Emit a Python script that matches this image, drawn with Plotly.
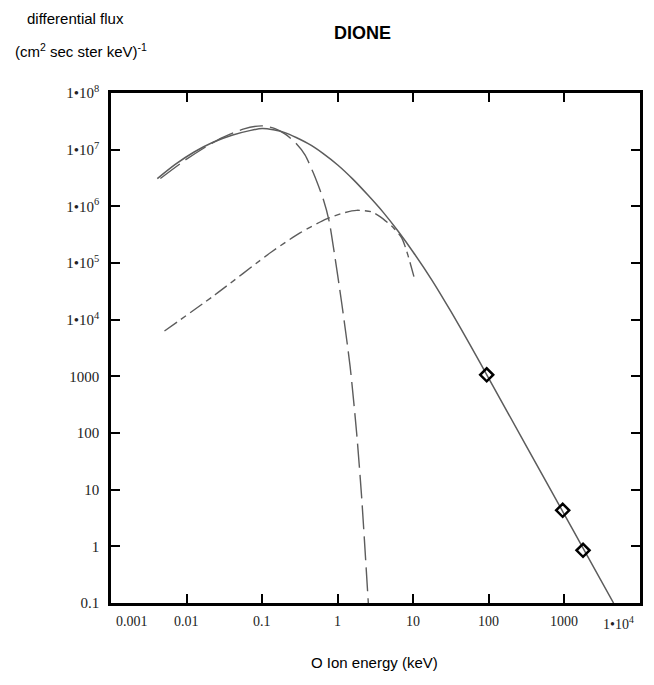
import plotly.graph_objects as go
import math

# Total O-ion differential flux (keV, (cm^2 s sr keV)^-1)
total_energy = [0.0041, 0.00708, 0.0126, 0.0224, 0.0398, 0.0708, 0.1, 0.141, 0.2, 0.282,
                0.447, 0.631, 1.0, 1.585, 2.51, 3.98, 6.31, 10, 17.8, 31.6, 56.2, 100,
                316, 1000, 1778, 4467]
total_flux = [3.09e6, 5.5e6, 9.1e6, 1.35e7, 1.8e7, 2.19e7, 2.36e7, 2.24e7, 2.0e7, 1.64e7,
              1.19e7, 8.7e6, 5.37e6, 3.02e6, 1.58e6, 7.9e5, 3.63e5, 1.55e5, 4.9e4, 1.38e4,
              3.63e3, 912, 57.5, 3.63, 0.91, 0.1]

# Cold (thermal) component
cold_energy = [0.0045, 0.01, 0.025, 0.056, 0.1, 0.148, 0.2, 0.282, 0.369, 0.475,
               0.646, 0.767, 0.875, 1.13, 1.46, 1.78, 2.07, 2.54]
cold_flux = [3.1e6, 6.8e6, 1.45e7, 2.3e7, 2.63e7, 2.35e7, 1.9e7, 1.29e7, 8.1e6, 3.9e6,
             1.32e6, 5.6e5, 1.95e5, 1.95e4, 1.48e3, 100, 7.6, 0.1]

# Hot component
hot_energy = [0.0051, 0.0238, 0.134, 0.317, 0.714, 1.26, 1.78, 2.8, 3.63, 5.45,
              7.0, 8.2, 10.5]
hot_flux = [6.3e3, 2.75e4, 1.58e5, 3.4e5, 6.0e5, 7.8e5, 8.5e5, 8.0e5, 6.6e5, 4.2e5,
            2.8e5, 1.6e5, 5.0e4]

# Measured points
meas_energy = [93.6, 948, 1762]
meas_flux = [1064, 4.33, 0.85]

x_tick_vals = [0.001, 0.01, 0.1, 1, 10, 100, 1000, 10000]
x_tick_text = ["0.001", "0.01", "0.1", "1", "10", "100", "1000", "1•10<sup>4</sup>"]
y_tick_vals = [0.1, 1, 10, 100, 1000, 1e4, 1e5, 1e6, 1e7, 1e8]
y_tick_text = ["0.1", "1", "10", "100", "1000", "1•10<sup>4</sup>", "1•10<sup>5</sup>",
               "1•10<sup>6</sup>", "1•10<sup>7</sup>", "1•10<sup>8</sup>"]

line_gray = "#5c5c5c"
serif = "Liberation Serif"
sans = "Liberation Sans"

fig = go.Figure()
fig.add_trace(go.Scatter(x=cold_energy, y=cold_flux, mode="lines",
                         line=dict(color=line_gray, width=1.4, dash="24px,7px", shape="spline",
                                   smoothing=0.7)))
fig.add_trace(go.Scatter(x=hot_energy, y=hot_flux, mode="lines",
                         line=dict(color=line_gray, width=1.4, dash="15px,5px,6px,5px",
                                   shape="spline", smoothing=0.7)))
fig.add_trace(go.Scatter(x=total_energy, y=total_flux, mode="lines",
                         line=dict(color=line_gray, width=1.5, shape="spline", smoothing=0.7)))
fig.add_trace(go.Scatter(x=meas_energy, y=meas_flux, mode="markers",
                         marker=dict(symbol="diamond-open", size=10, color="black",
                                     line=dict(color="black", width=2.5))))

axis_common = dict(
    type="log", showgrid=False, zeroline=False,
    showline=True, linecolor="black", linewidth=2.5, mirror="ticks",
    ticks="inside", ticklen=9, tickwidth=2, tickcolor="black",
)

fig.update_xaxes(range=[-3, 4], tickvals=x_tick_vals, showticklabels=False, **axis_common)
fig.update_yaxes(range=[-1, 8], tickvals=y_tick_vals, ticktext=y_tick_text,
                 tickfont=dict(family=serif, size=15, color="#222"),
                 ticklabelstandoff=6, **axis_common)

annotations = []
for i, (v, t) in enumerate(zip(x_tick_vals, x_tick_text)):
    anchor = "center"
    shift = 0
    if i == 0:
        anchor, shift = "left", 3
    elif i == len(x_tick_vals) - 1:
        anchor, shift = "right", -4
    annotations.append(dict(x=math.log10(v), xref="x", y=0, yref="paper",
                            text=t, showarrow=False, xanchor=anchor, yanchor="top",
                            xshift=shift, yshift=-9,
                            font=dict(family=serif, size=14, color="#222")))

annotations += [
    dict(text="<b>DIONE</b>", x=0.4745, y=1.1176, xref="paper", yref="paper",
         yanchor="middle", showarrow=False, font=dict(family=sans, size=18, color="black")),
    dict(text="differential flux", x=-0.1626, y=1.147, xref="paper", yref="paper",
         xanchor="left", yanchor="middle", showarrow=False,
         font=dict(family=sans, size=15, color="black")),
    dict(text="(cm<sup>2</sup> sec ster keV)<sup>-1</sup>", x=-0.185, y=1.084,
         xref="paper", yref="paper", xanchor="left", yanchor="middle", showarrow=False,
         font=dict(family=sans, size=15, color="black")),
    dict(text="O Ion energy (keV)", x=0.499, y=-0.1176, xref="paper", yref="paper",
         yanchor="middle", showarrow=False, font=dict(family=sans, size=15, color="black")),
]

fig.update_layout(
    width=654, height=685,
    margin=dict(l=111, r=14, t=93, b=82),
    paper_bgcolor="white", plot_bgcolor="white",
    showlegend=False,
    annotations=annotations,
)

fig.write_html("out.html")
